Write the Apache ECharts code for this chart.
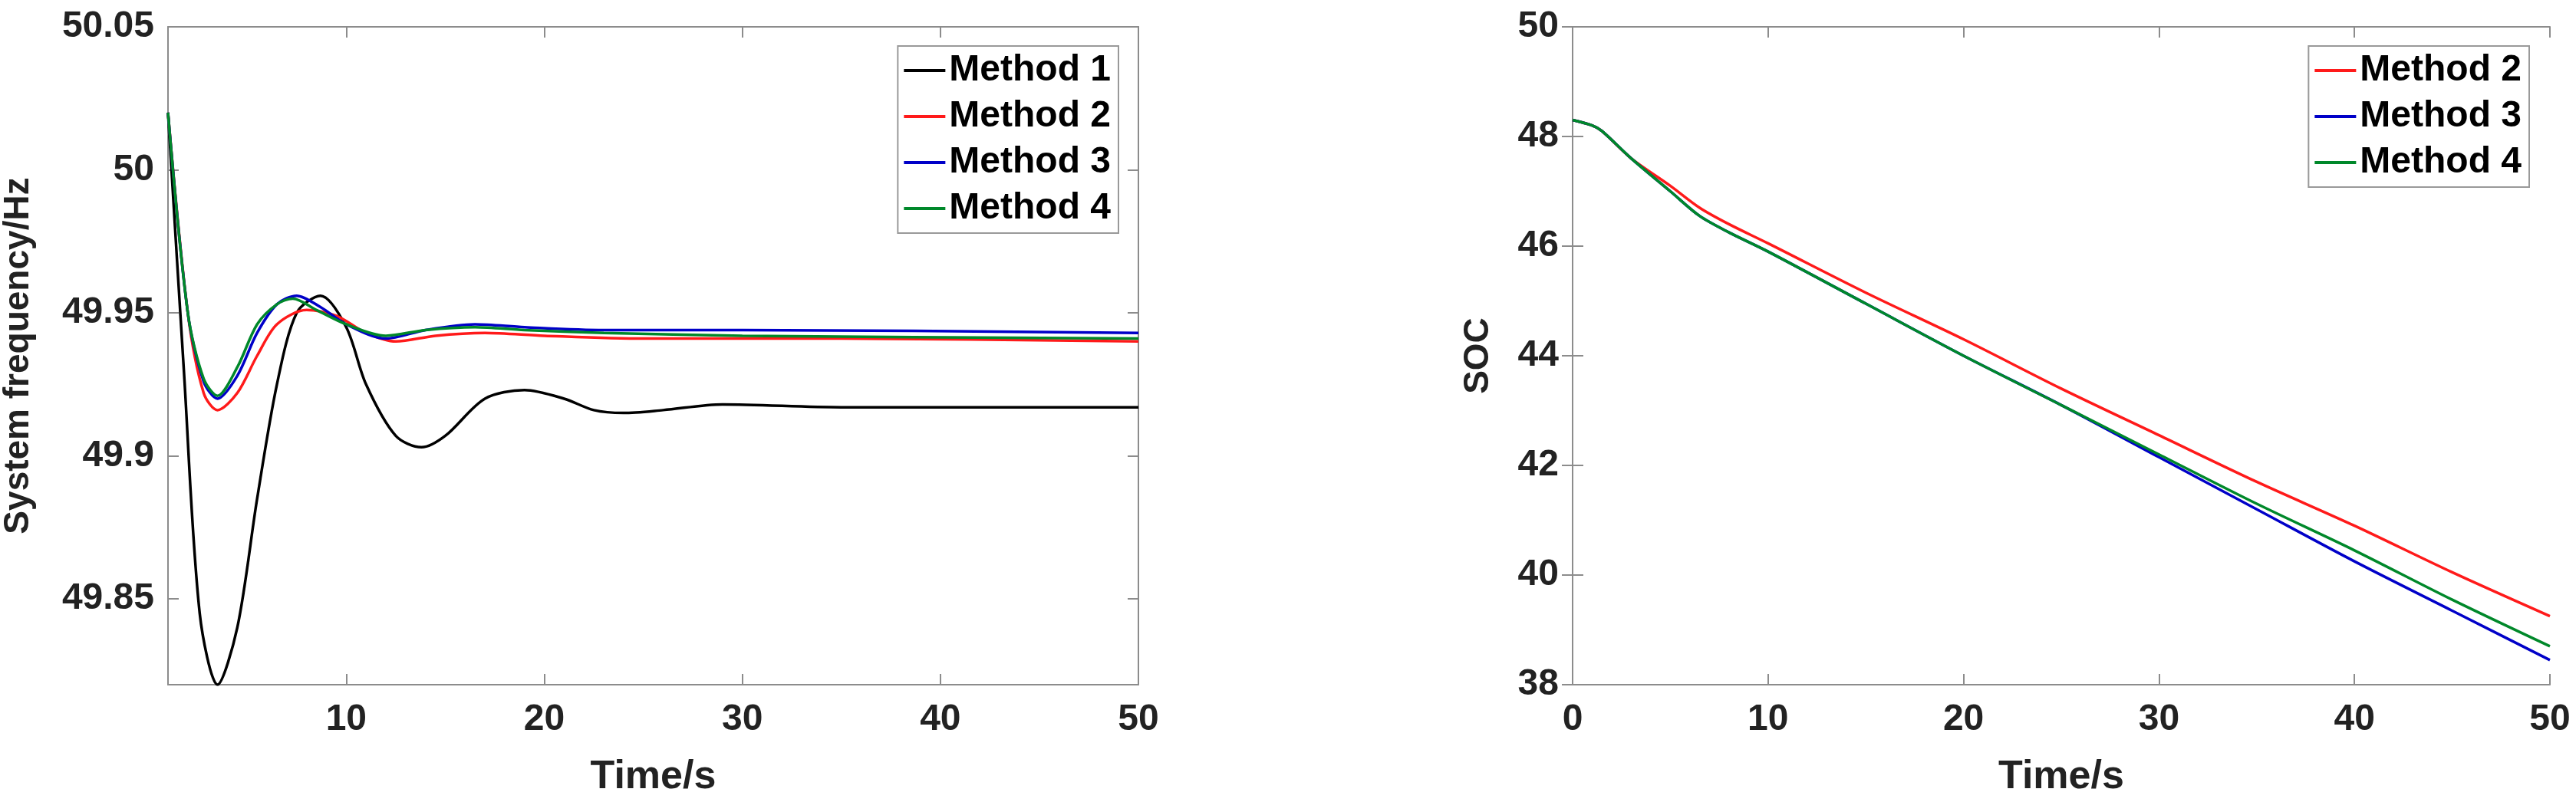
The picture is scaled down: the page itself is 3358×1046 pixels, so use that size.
<!DOCTYPE html>
<html>
<head>
<meta charset="utf-8">
<script src="https://cdn.jsdelivr.net/npm/echarts@6/dist/echarts.min.js"></script>
<style>
  html, body { margin: 0; padding: 0; background: #fff; }
  #chart { width: 3358px; height: 1046px; }
</style>
</head>
<body>
<div id="chart"></div>
<script>
// frequency response (left)
const freqM1 = [[1, 50.02], [1.8, 49.93], [2.6, 49.845], [3.5, 49.82], [4.5, 49.84], [5.5, 49.885], [6.5, 49.925], [7.5, 49.95], [8.7, 49.956], [10, 49.945], [11, 49.925], [12.5, 49.907], [13.8, 49.903], [15, 49.907], [17, 49.92], [19, 49.923], [21, 49.92], [22.5, 49.916], [24, 49.915], [26, 49.916], [29, 49.918], [35, 49.917], [50, 49.917]];
const freqM2 = [[1, 50.02], [2, 49.95], [2.8, 49.922], [3.5, 49.916], [4.5, 49.922], [5.5, 49.935], [6.5, 49.946], [8, 49.951], [9.5, 49.949], [11, 49.943], [12.5, 49.940], [14.5, 49.942], [17, 49.943], [20, 49.942], [25, 49.941], [35, 49.941], [50, 49.940]];
const freqM3 = [[1, 50.02], [2, 49.95], [2.8, 49.926], [3.5, 49.920], [4.5, 49.928], [5.5, 49.943], [6.5, 49.953], [7.5, 49.956], [8.7, 49.952], [10, 49.946], [12, 49.941], [14, 49.944], [16.5, 49.946], [19, 49.945], [23, 49.944], [30, 49.944], [50, 49.943]];
const freqM4 = [[1, 50.02], [2, 49.95], [2.8, 49.927], [3.5, 49.921], [4.5, 49.931], [5.5, 49.946], [6.5, 49.953], [7.3, 49.955], [8.5, 49.951], [10, 49.946], [12, 49.942], [14, 49.944], [16.5, 49.945], [19, 49.944], [23, 49.943], [30, 49.942], [50, 49.941]];

// SOC (right)
const socM2 = [[0, 48.3], [1, 48.2], [1.5, 48.1], [3, 47.6], [5, 47.1], [6.5, 46.7], [8, 46.4], [10, 46.05], [15, 45.15], [20, 44.3], [25, 43.4], [30, 42.55], [35, 41.7], [40, 40.9], [45, 40.05], [50, 39.25]];
const socM3 = [[0, 48.3], [1, 48.2], [1.5, 48.1], [3, 47.6], [5, 47.0], [6.5, 46.55], [8, 46.25], [10, 45.9], [15, 44.95], [20, 44.0], [25, 43.1], [30, 42.15], [35, 41.2], [40, 40.25], [45, 39.35], [50, 38.45]];
const socM4 = [[0, 48.3], [1, 48.2], [1.5, 48.1], [3, 47.6], [5, 47.0], [6.5, 46.55], [8, 46.25], [10, 45.9], [15, 44.95], [20, 44.0], [25, 43.1], [30, 42.2], [35, 41.3], [40, 40.45], [45, 39.55], [50, 38.7]];

const freqXTicks = [10, 20, 30, 40, 50];
const socXTicks = [0, 10, 20, 30, 40, 50];
const freqYTicks = [49.85, 49.9, 49.95, 50, 50.05];
const socYTicks = [38, 40, 42, 44, 46, 48, 50];

const colors = { m1: '#000000', m2: '#ff1a1a', m3: '#0000c8', m4: '#00882a' };
const font = "'Liberation Sans Narrow', 'Liberation Sans', Arial, sans-serif";

const chart = echarts.init(document.getElementById('chart'));

const axisLine = { show: true, lineStyle: { color: '#8c8c8c', width: 2 } };
const tickStyle = { color: '#8c8c8c', width: 2 };
const label = { fontFamily: font, fontWeight: 'bold', fontSize: 48, color: '#222' };

function xAx(grid, min, ticks, main) {
  const ax = {
    type: 'value', gridIndex: grid, min: min, max: 50,
    position: main ? 'bottom' : 'top',
    axisLine: axisLine, splitLine: { show: false },
    axisTick: { show: true, inside: true, length: 14, lineStyle: tickStyle, customValues: ticks },
    axisLabel: main ? Object.assign({ margin: 22, customValues: ticks }, label) : { show: false }
  };
  if (main) {
    ax.name = 'Time/s'; ax.nameLocation = 'middle'; ax.nameGap = 95;
    ax.nameTextStyle = { fontFamily: font, fontWeight: 'bold', fontSize: 52, color: '#222' };
  }
  return ax;
}
function yAx(grid, min, max, ticks, main, name, gap) {
  const ax = {
    type: 'value', gridIndex: grid, min: min, max: max,
    position: main ? 'left' : 'right',
    axisLine: axisLine, splitLine: { show: false },
    axisTick: { show: true, inside: true, length: 14, lineStyle: tickStyle, customValues: ticks },
    axisLabel: main ? Object.assign({ margin: 18, customValues: ticks }, label) : { show: false }
  };
  if (main) {
    ax.name = name; ax.nameLocation = 'middle'; ax.nameGap = gap;
    ax.nameTextStyle = { fontFamily: "'Liberation Sans', Arial, sans-serif", fontWeight: 'bold', fontSize: 46, color: '#222' };
  }
  return ax;
}

function line(name, data, color, xi, yi) {
  return {
    name: name, type: 'line', data: data, xAxisIndex: xi, yAxisIndex: yi,
    smooth: 0.3, showSymbol: false, symbol: 'none',
    lineStyle: { color: color, width: 3.5 }, itemStyle: { color: color }
  };
}

const legendText = { fontFamily: font, fontWeight: 'bold', fontSize: 48, color: '#000' };

chart.setOption({
  animation: false,
  backgroundColor: '#fff',
  grid: [
    { left: 209, top: 35, width: 1275, height: 858 },
    { left: 2050, top: 35, width: 1274, height: 858 }
  ],
  xAxis: [xAx(0, 1, freqXTicks, true), xAx(0, 1, freqXTicks, false), xAx(1, 0, socXTicks, true), xAx(1, 0, socXTicks, false)],
  yAxis: [
    yAx(0, 49.82, 50.05, freqYTicks, true, 'System frequency/Hz', 172),
    yAx(0, 49.82, 50.05, freqYTicks, false),
    yAx(1, 38, 50, socYTicks, true, 'SOC', 100),
    yAx(1, 38, 50, socYTicks, false)
  ],
  legend: [
    {
      data: ['Method 1', 'Method 2', 'Method 3', 'Method 4'],
      right: 3358 - 1458, top: 60, orient: 'vertical',
      icon: 'rect', itemWidth: 54, itemHeight: 4, itemGap: 12,
      borderColor: '#999', borderWidth: 2, padding: [8, 10, 8, 8],
      backgroundColor: '#fff', textStyle: legendText
    },
    {
      data: ['Method 2 ', 'Method 3 ', 'Method 4 '],
      right: 3358 - 3297, top: 60, orient: 'vertical',
      icon: 'rect', itemWidth: 54, itemHeight: 4, itemGap: 12,
      borderColor: '#999', borderWidth: 2, padding: [8, 10, 8, 8],
      backgroundColor: '#fff', textStyle: legendText,
      formatter: n => n.trim()
    }
  ],
  series: [
    line('Method 1', freqM1, colors.m1, 0, 0),
    line('Method 2', freqM2, colors.m2, 0, 0),
    line('Method 3', freqM3, colors.m3, 0, 0),
    line('Method 4', freqM4, colors.m4, 0, 0),
    line('Method 2 ', socM2, colors.m2, 2, 2),
    line('Method 3 ', socM3, colors.m3, 2, 2),
    line('Method 4 ', socM4, colors.m4, 2, 2)
  ]
});
</script>
</body>
</html>
